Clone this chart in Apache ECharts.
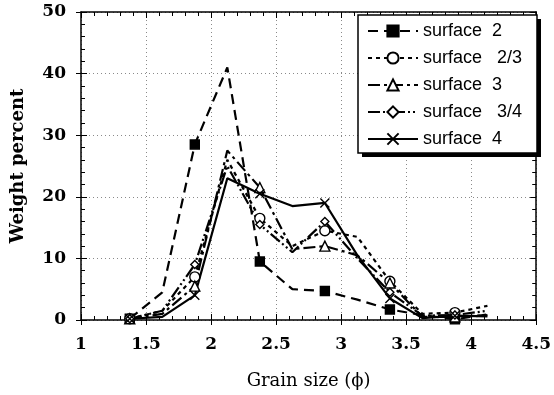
<!DOCTYPE html>
<html><head><meta charset="utf-8">
<script src="https://cdn.jsdelivr.net/npm/echarts@6/dist/echarts.min.js"></script>
<style>html,body{margin:0;padding:0;background:#fff}#c{width:554px;height:395px}</style>
</head><body><div id="c"></div>
<script>
// Data
const grainSize = [1.375, 1.625, 1.875, 2.125, 2.375, 2.625, 2.875, 3.125, 3.375, 3.625, 3.875, 4.125];
const surface2  = [0.2, 4.5, 28.5, 41.0, 9.5, 5.0, 4.7, 3.3, 1.7, 0.8, 0.1, 0.9];
const surface23 = [0.2, 1.5, 7.0, 26.0, 16.5, 12.0, 14.5, 13.5, 6.3, 1.0, 1.2, 2.3];
const surface3  = [0.2, 1.0, 5.5, 27.5, 21.5, 11.5, 12.0, 10.5, 6.0, 0.5, 0.5, 0.8];
const surface34 = [0.2, 1.5, 9.0, 25.0, 15.5, 11.0, 16.0, 10.0, 4.5, 0.7, 0.8, 1.5];
const surface4  = [0.2, 0.5, 4.0, 23.0, 20.5, 18.5, 19.0, 10.5, 3.5, 0.3, 0.7, 0.6];
const markedSizes = [1.375, 1.875, 2.375, 2.875, 3.375, 3.875];
const seriesNames = ['surface  2', 'surface   2/3', 'surface  3', 'surface   3/4', 'surface  4'];
const xTitle = 'Grain size (\u03d5)';
const yTitle = 'Weight percent';

const serif = 'DejaVu Serif';
function mk(name, vals, symbol, size, fill, dash) {
  return {
    name: name, type: 'line', xAxisIndex: 0, yAxisIndex: 0,
    symbol: symbol, symbolSize: size, showSymbol: true, animation: false,
    data: grainSize.map((x, i) => ({ value: [x, vals[i]], symbol: markedSizes.includes(x) ? symbol : 'none' })),
    lineStyle: { color: '#000', width: 2.2, type: dash },
    itemStyle: { color: fill, borderColor: '#000', borderWidth: 1.4 },
    z: 3
  };
}
const grid = '#8a8a8a';
const baseX = { type: 'value', min: 1, max: 4.5, interval: 0.5 };
const baseY = { type: 'value', min: 0, max: 50, interval: 10 };
const line = { show: true, onZero: false, lineStyle: { color: '#000', width: 1.5 } };
const tickLabel = { fontFamily: serif, fontSize: 17, fontWeight: 'bold', color: '#000' };
const option = {
  backgroundColor: '#fff',
  animation: false,
  grid: { left: 81, right: 15, top: 12, bottom: 67, containLabel: false },
  graphic: [
    { type: 'rect', shape: { x: 362, y: 19, width: 179, height: 138 }, style: { fill: '#000' }, z: 10 },
    { type: 'rect', shape: { x: 358, y: 15, width: 179, height: 138 }, style: { fill: '#fff', stroke: '#000', lineWidth: 1.5 }, z: 11 }
  ],
  xAxis: [
    Object.assign({}, baseX, {
      position: 'bottom', axisLine: line,
      axisTick: { show: true, inside: false, length: 5, lineStyle: { color: '#000', width: 1 } },
      axisLabel: Object.assign({ margin: 16 }, tickLabel),
      splitLine: { show: true, lineStyle: { color: grid, type: [1, 3], width: 1 } },
      name: xTitle, nameLocation: 'middle', nameGap: 52,
      nameTextStyle: { fontFamily: serif, fontSize: 18, color: '#000' }
    }),
    Object.assign({}, baseX, {
      position: 'bottom', axisLine: { show: false },
      axisTick: { show: true, inside: true, length: 6, lineStyle: { color: '#000', width: 1 } },
      minorTick: { show: true, splitNumber: 5, length: 4, lineStyle: { color: '#000', width: 1 } },
      axisLabel: { show: false }, splitLine: { show: false }
    }),
    Object.assign({}, baseX, {
      position: 'top', axisLine: line,
      axisTick: { show: true, inside: true, length: 6, lineStyle: { color: '#000', width: 1 } },
      minorTick: { show: true, splitNumber: 5, length: 4, lineStyle: { color: '#000', width: 1 } },
      axisLabel: { show: false }, splitLine: { show: false }
    })
  ],
  yAxis: [
    Object.assign({}, baseY, {
      position: 'left', axisLine: line,
      axisTick: { show: true, inside: false, length: 5, lineStyle: { color: '#000', width: 1 } },
      axisLabel: Object.assign({ margin: 15 }, tickLabel),
      splitLine: { show: true, lineStyle: { color: grid, type: [1, 3], width: 1 } },
      name: yTitle, nameLocation: 'middle', nameGap: 54,
      nameTextStyle: { fontFamily: serif, fontSize: 18, fontWeight: 'bold', color: '#000' }
    }),
    Object.assign({}, baseY, {
      position: 'left', axisLine: { show: false },
      axisTick: { show: true, inside: true, length: 6, lineStyle: { color: '#000', width: 1 } },
      minorTick: { show: true, splitNumber: 5, length: 4, lineStyle: { color: '#000', width: 1 } },
      axisLabel: { show: false }, splitLine: { show: false }
    }),
    Object.assign({}, baseY, {
      position: 'right', axisLine: line,
      axisTick: { show: true, inside: true, length: 6, lineStyle: { color: '#000', width: 1 } },
      minorTick: { show: true, splitNumber: 5, length: 4, lineStyle: { color: '#000', width: 1 } },
      axisLabel: { show: false }, splitLine: { show: false }
    })
  ],
  legend: {
    orient: 'vertical', left: 367, top: 22, z: 12,
    itemWidth: 50, itemHeight: 14, itemGap: 9, padding: 0,
    textStyle: { fontFamily: 'Liberation Sans', fontSize: 18, color: '#000' },
    data: seriesNames
  },
  series: [
    mk(seriesNames[0], surface2, 'rect', 9, '#000', [10, 6]),
    mk(seriesNames[1], surface23, 'circle', 10, '#fff', [4, 4]),
    mk(seriesNames[2], surface3, 'triangle', 10, '#fff', [12, 4, 3, 4]),
    mk(seriesNames[3], surface34, 'diamond', 8, '#fff', [12, 3, 2, 3, 2, 3]),
    mk(seriesNames[4], surface4, 'path://M0,0L10,10M10,0L0,10', 9, 'none', 'solid')
  ]
};
const chart = echarts.init(document.getElementById('c'), null, { renderer: 'canvas' });
chart.setOption(option);
</script>
</body></html>
